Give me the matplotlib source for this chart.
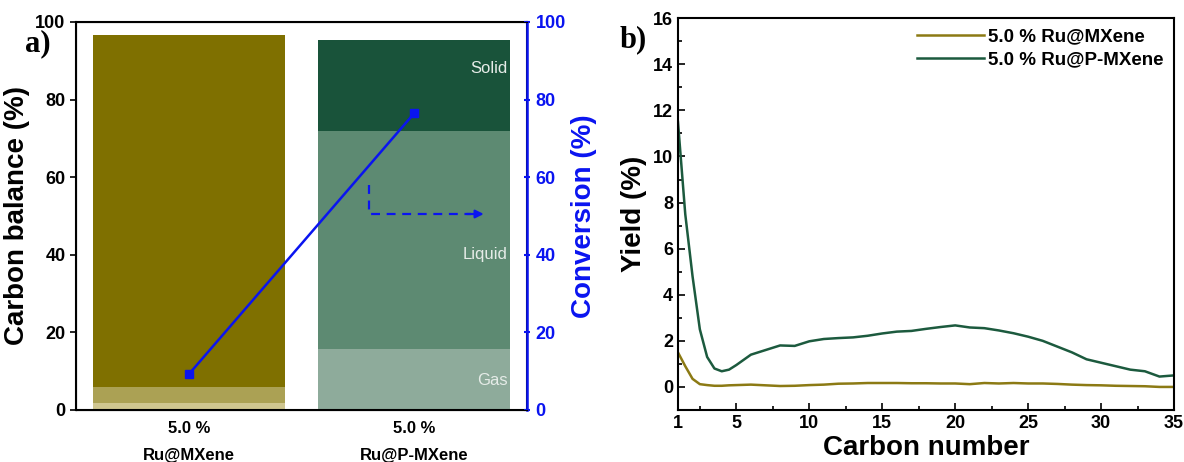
import matplotlib
matplotlib.use("Agg")
import matplotlib.pyplot as plt
from matplotlib.ticker import MultipleLocator, FixedLocator

plt.rcParams['font.family'] = ['Liberation Sans', 'DejaVu Sans']
plt.rcParams['font.weight'] = 'bold'
plt.rcParams['axes.labelweight'] = 'bold'

# ---- panel a: carbon balance and conversion ----
catalysts = ["5.0 %\nRu@MXene", "5.0 %\nRu@P-MXene"]
gas = [1.7, 15.6]
liquid = [4.1, 56.2]
solid = [90.8, 23.5]
conversion = [9.2, 76.5]

bar1_colors = ["#cfc690", "#aba154", "#7f7000"]
bar2_colors = ["#8eab9b", "#5d8a72", "#19533a"]
phase_names = ["Gas", "Liquid", "Solid"]
phase_label_y = [7.5, 40, 88]

# ---- panel b: carbon-number distribution ----
carbon = [1, 1.5, 2, 2.5, 3, 3.5, 4, 4.5, 5, 6, 7, 8, 9, 10, 11, 12, 13, 14, 15,
          16, 17, 18, 19, 20, 21, 22, 23, 24, 25, 26, 27, 28, 29, 30, 31, 32,
          33, 34, 35]
yield_mxene = [1.5, 0.9, 0.35, 0.12, 0.08, 0.05, 0.05, 0.07, 0.08, 0.1, 0.07,
               0.04, 0.05, 0.08, 0.1, 0.14, 0.15, 0.17, 0.17, 0.17, 0.16, 0.16,
               0.15, 0.15, 0.12, 0.17, 0.15, 0.17, 0.15, 0.15, 0.13, 0.1, 0.08,
               0.07, 0.05, 0.04, 0.03, 0.0, 0.0]
yield_pmxene = [11.5, 7.5, 4.8, 2.5, 1.3, 0.8, 0.68, 0.75, 0.95, 1.4, 1.6, 1.8,
                1.78, 1.98, 2.08, 2.12, 2.15, 2.22, 2.32, 2.4, 2.43, 2.52, 2.6,
                2.67, 2.58, 2.55, 2.45, 2.33, 2.18, 2.0, 1.75, 1.5, 1.2, 1.05,
                0.9, 0.75, 0.68, 0.45, 0.5]

fig = plt.figure(figsize=(11.84, 4.62), dpi=100)

ax = fig.add_axes([0.0642, 0.1126, 0.381, 0.840])
xpos = [0, 1]
width = 0.85
for i, cols in enumerate([bar1_colors, bar2_colors]):
    bottom = 0
    for val, c in zip([gas[i], liquid[i], solid[i]], cols):
        ax.bar(xpos[i], val, width=width, bottom=bottom, color=c, edgecolor='none')
        bottom += val

for name, yv in zip(phase_names, phase_label_y):
    ax.text(xpos[1] + width / 2 - 0.01, yv, name, ha='right', va='center',
            color='#e6ece8', fontsize=12, fontweight='normal')

ax.set_xlim(-0.5, 1.5)
ax.set_ylim(0, 100)
ax.set_xticks(xpos)
ax.set_xticklabels(catalysts, fontsize=12, linespacing=2.0)
ax.tick_params(axis='x', length=0, pad=8)
ax.set_yticks([0, 20, 40, 60, 80, 100])
ax.tick_params(axis='y', labelsize=13, direction='out', length=4, width=1.2)
ax.set_ylabel("Carbon balance (%)", fontsize=20, labelpad=4)
for s in ax.spines.values():
    s.set_linewidth(1.5)

ax2 = ax.twinx()
ax2.plot(xpos, conversion, color='#0a14f0', lw=1.8, marker='s', markersize=6)
ax2.set_ylim(0, 100)
ax2.set_yticks([0, 20, 40, 60, 80, 100])
ax2.tick_params(axis='y', colors='#0a14f0', labelsize=13, length=5, width=1.5,
                direction='inout')
ax2.spines['right'].set_color('#0a14f0')
ax2.spines['right'].set_linewidth(1.8)
ax2.set_ylabel("Conversion (%)", fontsize=20, color='#0a14f0', labelpad=4)

# dashed pointer towards the conversion axis
ax2.plot([0.8, 0.8, 1.25], [58, 50.5, 50.5], color='#0a14f0', lw=1.6,
         ls=(0, (4, 3)))
ax2.annotate("", xy=(1.32, 50.5), xytext=(1.22, 50.5),
             arrowprops=dict(arrowstyle='-|>', color='#0a14f0', lw=1.6,
                             mutation_scale=12))

fig.text(0.032, 0.905, "a)", fontsize=22, fontweight='bold',
         family=['Liberation Serif', 'DejaVu Serif'], ha='center', va='center')

# ---- panel b ----
bx = fig.add_axes([0.5726, 0.1126, 0.419, 0.848])
bx.plot(carbon, yield_mxene, color='#8c7a14', lw=1.8, label="5.0 % Ru@MXene")
bx.plot(carbon, yield_pmxene, color='#1c5a3e', lw=1.8, label="5.0 % Ru@P-MXene")
bx.set_xlim(1, 35)
bx.set_ylim(-1, 16)
bx.xaxis.set_major_locator(FixedLocator([1, 5, 10, 15, 20, 25, 30, 35]))
bx.xaxis.set_minor_locator(FixedLocator([2.5, 7.5, 12.5, 17.5, 22.5, 27.5, 32.5]))
bx.yaxis.set_major_locator(MultipleLocator(2))
bx.yaxis.set_minor_locator(MultipleLocator(1))
bx.tick_params(which='both', direction='in', labelsize=13, width=1.2)
bx.tick_params(which='major', length=5)
bx.tick_params(which='minor', length=3)
bx.set_xlabel("Carbon number", fontsize=20, labelpad=2)
bx.set_ylabel("Yield (%)", fontsize=20, labelpad=4)
for s in bx.spines.values():
    s.set_linewidth(1.5)
leg = bx.legend(loc='upper right', frameon=False, fontsize=13.5, handlelength=3.6,
                handletextpad=0.2, borderaxespad=0.15, labelspacing=0.3)

fig.text(0.535, 0.915, "b)", fontsize=22, fontweight='bold',
         family=['Liberation Serif', 'DejaVu Serif'], ha='center', va='center')

fig.savefig("out.png", dpi=100)
